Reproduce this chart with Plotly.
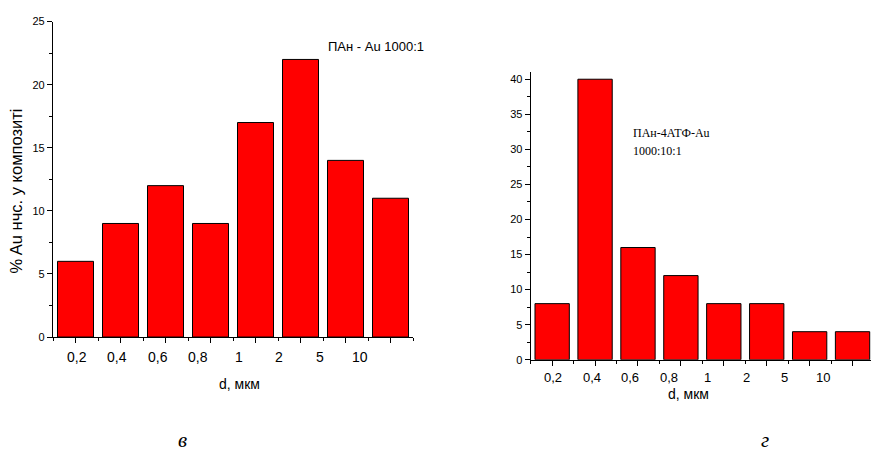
import plotly.graph_objects as go

# ---- data ----
categories = ["0,2", "0,4", "0,6", "0,8", "1", "2", "5", "10"]
values_v = [6, 9, 12, 9, 17, 22, 14, 11]      # ПАн - Au 1000:1
values_g = [8, 40, 16, 12, 8, 8, 4, 4]        # ПАн-4АТФ-Au 1000:10:1
y_ticks_v = [0, 5, 10, 15, 20, 25]
y_ticks_g = [0, 5, 10, 15, 20, 25, 30, 35, 40]
x_title = "d, мкм"
y_title_v = "% Au нчс. у композиті"
label_v = "ПАн - Au 1000:1"
label_g = ["ПАн-4АТФ-Au", "1000:10:1"]
panel_v = "в"
panel_g = "г"

W, H = 871, 456
SANS = "Liberation Sans, Arial, sans-serif"
SERIF = "Liberation Serif, Times New Roman, serif"


def px(x):
    return x / W


def py(y):
    return 1 - y / H


idx = list(range(len(categories)))

fig = go.Figure()
bar_style = dict(marker=dict(color="#FF0000", line=dict(color="black", width=1)),
                 width=0.8, showlegend=False, hoverinfo="skip")
fig.add_trace(go.Bar(x=idx, y=values_v, xaxis="x", yaxis="y", **bar_style))
fig.add_trace(go.Bar(x=idx, y=values_g, xaxis="x2", yaxis="y2", **bar_style))

minor_x = dict(tickmode="array", tickvals=[i - 0.5 for i in range(len(categories) + 1)],
               ticks="outside", ticklen=3, tickcolor="black", tickwidth=1)
xcommon = dict(tickmode="array", tickvals=idx, showticklabels=False, ticks="outside",
               ticklen=5, tickcolor="black", tickwidth=1, showline=True, linecolor="black",
               linewidth=1.3, showgrid=False, zeroline=False, fixedrange=True)
ycommon = dict(ticks="outside", ticklen=5, tickcolor="black", tickwidth=1, showline=True,
               linecolor="black", linewidth=1.2, showgrid=False, zeroline=False,
               tickfont=dict(family=SANS, size=11, color="black"),
               minor=dict(dtick=2.5, tick0=0, ticks="outside", ticklen=3,
                          tickcolor="black", tickwidth=1),
               fixedrange=True)

fig.update_layout(
    width=W, height=H,
    margin=dict(l=0, r=0, t=0, b=0),
    paper_bgcolor="white", plot_bgcolor="white",
    bargap=0.2,
    xaxis=dict(domain=[px(53), px(413)], range=[-0.5, 7.5], anchor="y", minor=minor_x, **xcommon),
    yaxis=dict(domain=[py(340), py(16)], range=[0, 25], tickmode="array", tickvals=y_ticks_v,
               anchor="x", **ycommon),
    xaxis2=dict(domain=[px(530.7), 1.0], range=[-0.5, 7.43], anchor="y2", minor=minor_x, **xcommon),
    yaxis2=dict(domain=[py(363.3), py(68)], range=[0, 41], tickmode="array", tickvals=y_ticks_g,
                anchor="x2", **ycommon),
)

ann = []
# x tick labels (slightly compressed spacing as in the original)
for i, c in enumerate(categories):
    ann.append(dict(x=0.03 + 0.9 * i, y=py(360), xref="x", yref="paper", text=c, showarrow=False,
                    xanchor="center", yanchor="middle", font=dict(family=SANS, size=14, color="black")))
    ann.append(dict(x=0.02 + 0.9 * i, y=py(381.5), xref="x2", yref="paper", text=c, showarrow=False,
                    xanchor="center", yanchor="middle", font=dict(family=SANS, size=13, color="black")))
# axis titles
ann.append(dict(x=px(240), y=py(388), xref="paper", yref="paper", text=x_title, showarrow=False,
                xanchor="center", yanchor="middle", font=dict(family=SANS, size=14, color="black")))
ann.append(dict(x=px(688), y=py(398), xref="paper", yref="paper", text=x_title, showarrow=False,
                xanchor="center", yanchor="middle", font=dict(family=SANS, size=14, color="black")))
ann.append(dict(x=px(15.5), y=py(190), xref="paper", yref="paper", text=y_title_v, showarrow=False,
                textangle=-90, xanchor="center", yanchor="middle",
                font=dict(family=SANS, size=16.5, color="black")))
# in-plot labels
ann.append(dict(x=px(375.5), y=py(42), xref="paper", yref="paper", text=label_v, showarrow=False,
                xanchor="center", yanchor="middle",
                font=dict(family="Liberation Sans Narrow, Arial Narrow, " + SANS, size=13, color="black")))
ann.append(dict(x=px(630.7), y=py(130.7), xref="paper", yref="paper", text=label_g[0], showarrow=False,
                xanchor="left", yanchor="middle", font=dict(family=SERIF, size=12, color="black")))
ann.append(dict(x=px(630.7), y=py(149.3), xref="paper", yref="paper", text=label_g[1], showarrow=False,
                xanchor="left", yanchor="middle", font=dict(family=SERIF, size=12, color="black")))
# panel letters
ann.append(dict(x=px(182), y=py(446), xref="paper", yref="paper", text="<i>" + panel_v + "</i>",
                showarrow=False, xanchor="center", yanchor="middle",
                font=dict(family=SERIF, size=21, color="black")))
ann.append(dict(x=px(765), y=py(446), xref="paper", yref="paper", text="<i>" + panel_g + "</i>",
                showarrow=False, xanchor="center", yanchor="middle",
                font=dict(family=SERIF, size=21, color="black")))
fig.update_layout(annotations=ann)

fig.write_html("out.html")
